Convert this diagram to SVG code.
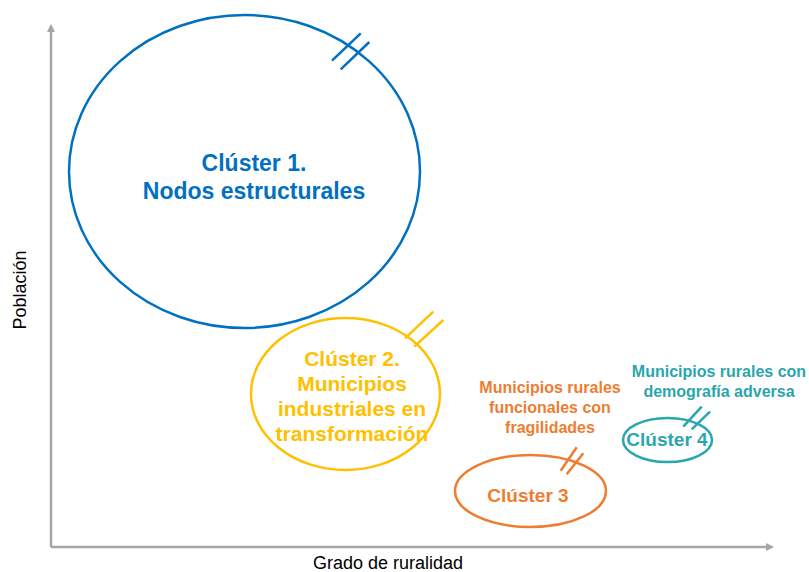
<svg xmlns="http://www.w3.org/2000/svg" width="809" height="572" viewBox="0 0 809 572">
<style>
.ax{stroke:#A6A6A6;stroke-width:2.5;fill:none}
.t{font-family:"Liberation Sans",Arial,sans-serif;font-weight:bold;text-anchor:middle}
.lab{font-family:"Liberation Sans",Arial,sans-serif;font-size:18px;fill:#000;text-anchor:middle}
.blue{stroke:#0070C0;fill:none;stroke-width:2.5}
.yel{stroke:#FFC000;fill:none;stroke-width:2.5}
.ora{stroke:#ED7D31;fill:none;stroke-width:2.5}
.tea{stroke:#2AA6AC;fill:none;stroke-width:2.5}
</style>
<defs>
<marker id="ar" markerWidth="8" markerHeight="8" refX="6" refY="4" orient="auto" markerUnits="userSpaceOnUse">
<path d="M0,0 L8,4 L0,8 Z" fill="#A6A6A6"/>
</marker>
</defs>
<g id="axes">
<line class="ax" x1="51" y1="547" x2="51" y2="26" marker-end="url(#ar)"/>
<line class="ax" x1="51" y1="547" x2="772" y2="547" marker-end="url(#ar)"/>
<text class="lab" x="388" y="569">Grado de ruralidad</text>
<text class="lab" font-size="19" transform="translate(26,290) rotate(-90)">Población</text>
</g>
<g id="cluster1">
<ellipse class="blue" cx="244.5" cy="171.5" rx="175.5" ry="156.5"/>
<line class="blue" x1="332" y1="60.7" x2="360.7" y2="33.3"/>
<line class="blue" x1="340.7" y1="69.3" x2="369.3" y2="42"/>
<text class="t" font-size="23" fill="#0070C0" x="254" y="171">Clúster 1.</text>
<text class="t" font-size="23" fill="#0070C0" x="254" y="199">Nodos estructurales</text>
</g>
<g id="cluster2">
<ellipse class="yel" cx="345.5" cy="394" rx="94.5" ry="76"/>
<line class="yel" x1="405" y1="338.3" x2="433.3" y2="311.7"/>
<line class="yel" x1="414.3" y1="346.7" x2="443.3" y2="320"/>
<text class="t" font-size="21" fill="#FFC000" x="352" y="366">Clúster 2.</text>
<text class="t" font-size="21" fill="#FFC000" x="352" y="391">Municipios</text>
<text class="t" font-size="21" fill="#FFC000" x="352" y="416">industriales en</text>
<text class="t" font-size="21" fill="#FFC000" x="352" y="441">transformación</text>
</g>
<g id="cluster3">
<ellipse class="ora" cx="530.5" cy="491" rx="75.5" ry="36"/>
<line class="ora" x1="560.7" y1="470.7" x2="576.7" y2="447.3"/>
<line class="ora" x1="566.7" y1="474.3" x2="583.3" y2="453.3"/>
<text class="t" font-size="19" fill="#ED7D31" x="528" y="502">Clúster 3</text>
<text class="t" font-size="16" fill="#ED7D31" x="550" y="393">Municipios rurales</text>
<text class="t" font-size="16" fill="#ED7D31" x="550" y="413">funcionales con</text>
<text class="t" font-size="16" fill="#ED7D31" x="550" y="433">fragilidades</text>
</g>
<g id="cluster4">
<ellipse class="tea" cx="667.5" cy="440" rx="44.5" ry="22"/>
<line class="tea" x1="683.3" y1="426.7" x2="701.7" y2="406.7"/>
<line class="tea" x1="691.7" y1="429.3" x2="710" y2="411.7"/>
<text class="t" font-size="19" fill="#2AA6AC" x="667" y="446">Clúster 4</text>
<text class="t" font-size="16" fill="#2AA6AC" x="719" y="377">Municipios rurales con</text>
<text class="t" font-size="16" fill="#2AA6AC" x="719" y="397">demografía adversa</text>
</g>
</svg>
